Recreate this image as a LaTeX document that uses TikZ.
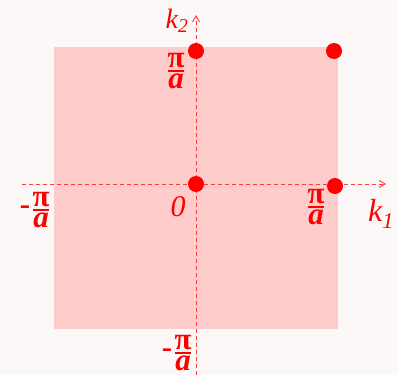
\documentclass[tikz,border=0pt]{standalone}
\usepackage{fontspec}
\setmainfont{Liberation Serif}
\usepackage{tikz}
\usetikzlibrary{positioning,arrows.meta,calc}
\definecolor{bgpink}{RGB}{253,248,248}
\definecolor{zonepink}{RGB}{255,204,204}
\definecolor{dotred}{RGB}{255,0,0}
\definecolor{axisred}{RGB}{255,60,60}
\newcommand{\pia}{\vbox{\baselineskip=0pt\lineskiplimit=0pt\lineskip=2.5pt
  \halign{\hfil##\hfil\cr π\cr \vrule width16pt height2pt depth0pt\cr \itshape a\cr}}}

\begin{document}
\begin{tikzpicture}[
  x=1pt,y=-1pt,
  axis/.style={draw=axisred,line width=0.9pt,dash pattern=on 4pt off 3pt,-{Straight Barb[length=6pt,width=7pt]}},
  dot/.style={circle,fill=dotred,inner sep=0pt,minimum size=16pt},
  frac/.style={text=dotred,inner sep=0pt,font=\fontsize{31}{33}\selectfont\bfseries},
  lab/.style={text=dotred,inner sep=0pt,font=\fontsize{30}{32}\selectfont\itshape},
]
  % background and first zone
  \fill[bgpink] (0,0) rectangle (398,375);
  \useasboundingbox (0,0) rectangle (398,375);
  \fill[zonepink] (54,47) rectangle (338,329);
  % axes
  \coordinate (xl) at (22,184);
  \coordinate (xr) at (386,184);
  \coordinate (yb) at (196,375);
  \coordinate (yt) at (196,15);
  \draw[axis] (xl) -- (xr);
  \draw[axis] (yb) -- (yt);
  % points
  \node[dot] (O) at (196,184) {};
  \node[dot] (T) at (196,51) {};
  \node[dot] (C) at (334,51) {};
  \node[dot] (R) at (335,186) {};
  % labels
  \node[lab] (zero) at ($(O)+(-18,23)$) {0};
  \node[frac] (piT) at ($(T)+(-20,20)$) {\pia};
  \node[frac] (piR) at ($(R)+(-19,21)$) {\pia};
  \node[frac] (piL) at (41,210) {\pia};
  \node[frac,left=2pt of piL] (mL) {-};
  \node[frac] (piB) at (183,353) {\pia};
  \node[frac,left=2pt of piB] (mB) {-};
  \node[lab,font=\fontsize{32}{34}\selectfont\itshape] (k1) at (381,214) {k\textsubscript{1}};
  \node[lab,font=\fontsize{28}{30}\selectfont\itshape] (k2) at (177,21) {k\textsubscript{2}};
\end{tikzpicture}
\end{document}
